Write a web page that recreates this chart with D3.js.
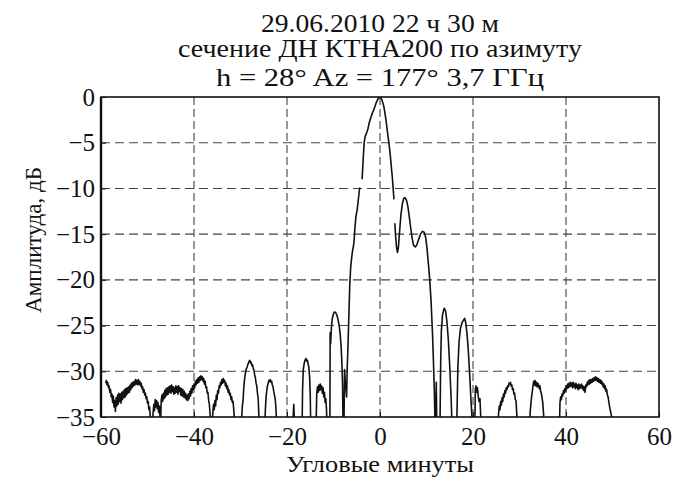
<!DOCTYPE html>
<html><head><meta charset="utf-8">
<script src="https://cdn.jsdelivr.net/npm/d3@7"></script>
<style>body{margin:0;background:#fff}svg{display:block}</style>
</head><body>
<svg id="chart" width="689" height="480"></svg>
<script>
// ---- data ----
const titleLines = ["29.06.2010 22 ч 30 м", "сечение ДН КТНА200 по азимуту", "h = 28°  Az = 177°  3,7 ГГц"];
const xLabel = "Угловые минуты";
const yLabel = "Амплитуда, дБ";
const xTicks = [-60, -40, -20, 0, 20, 40, 60];
const yTicks = [0, -5, -10, -15, -20, -25, -30, -35];
const xGrid = [-40, -20, 0, 20, 40];
const yGrid = [-5, -10, -15, -20, -25, -30];

// segment 1: far-left noise through the left side of the main lobe
const segment1 = [
[-59.0,-31.3],[-58.85,-31.0],[-58.7,-31.5],[-58.55,-31.2],[-58.4,-31.8],[-58.25,-31.6],[-58.1,-32.3],[-57.95,-32.0],[-57.8,-32.8],[-57.65,-32.5],
[-57.5,-33.4],[-57.35,-32.7],[-57.2,-33.9],[-57.05,-33.2],[-56.9,-34.4],[-56.75,-32.9],[-56.6,-33.8],[-56.45,-32.6],[-56.3,-33.6],[-56.15,-32.4],
[-56.0,-33.3],[-55.85,-32.5],[-55.7,-33.5],[-55.55,-32.3],[-55.4,-33.1],[-55.25,-32.2],[-55.1,-32.9],[-54.95,-32.0],[-54.8,-32.8],[-54.65,-31.9],
[-54.5,-32.6],[-54.35,-31.8],[-54.2,-32.4],[-54.05,-31.7],[-53.9,-32.3],[-53.75,-31.5],[-53.6,-32.0],[-53.45,-31.3],[-53.3,-31.8],[-53.15,-31.2],
[-53.0,-31.6],[-52.85,-31.1],[-52.7,-31.5],[-52.55,-30.9],[-52.4,-31.4],[-52.25,-31.0],[-52.1,-31.5],[-51.95,-30.9],[-51.8,-31.4],[-51.65,-31.1],
[-51.5,-31.6],[-51.35,-31.3],[-51.2,-31.9],[-51.05,-31.7],[-50.9,-32.3],[-50.75,-32.0],[-50.6,-32.6],[-50.45,-32.4],[-50.3,-33.0],[-50.15,-32.8],
[-50.0,-33.5],[-49.85,-33.3],[-49.7,-34.2],[-49.55,-33.9],[-49.4,-35.0],[-49.25,-36],
[-48.9,-36],[-48.8,-34.6],[-48.65,-33.6],[-48.5,-34.3],[-48.35,-33.1],[-48.2,-33.9],[-48.05,-33.2],[-47.9,-34.1],[-47.75,-33.4],[-47.6,-34.5],
[-47.45,-33.8],[-47.3,-35.0],[-47.2,-36],
[-47.05,-33.2],[-46.9,-32.6],[-46.75,-33.3],[-46.6,-32.4],[-46.45,-33.0],[-46.3,-32.1],[-46.15,-32.8],[-46.0,-31.9],[-45.85,-32.6],[-45.7,-31.8],
[-45.55,-32.5],[-45.4,-31.7],[-45.25,-32.3],[-45.1,-31.6],[-44.95,-32.4],[-44.8,-31.5],[-44.65,-32.2],[-44.5,-31.7],[-44.35,-32.5],[-44.2,-31.8],
[-44.05,-32.4],[-43.9,-31.6],[-43.75,-32.3],[-43.6,-31.7],[-43.45,-32.5],[-43.3,-31.6],[-43.15,-32.2],[-43.0,-31.8],[-42.85,-32.6],[-42.7,-31.9],
[-42.55,-32.7],[-42.4,-32.0],[-42.25,-32.8],[-42.1,-32.2],[-41.95,-32.9],[-41.8,-32.4],[-41.65,-33.1],[-41.5,-32.6],[-41.35,-33.2],[-41.2,-32.5],
[-41.05,-33.0],[-40.9,-32.2],[-40.75,-32.7],[-40.6,-31.9],[-40.45,-32.4],[-40.3,-31.6],[-40.15,-32.0],[-40.0,-31.4],[-39.85,-31.8],[-39.7,-31.1],
[-39.55,-31.5],[-39.4,-30.9],[-39.25,-31.3],[-39.1,-30.7],[-38.95,-31.2],[-38.8,-30.6],[-38.65,-31.0],[-38.5,-30.5],[-38.35,-30.9],[-38.2,-30.6],
[-38.05,-31.1],[-37.9,-30.8],[-37.75,-31.4],[-37.6,-31.1],[-37.45,-31.8],[-37.3,-31.7],[-37.15,-32.4],[-37.0,-32.3],[-36.85,-33.2],[-36.7,-33.6],
[-36.55,-34.6],[-36.4,-36],[-36.1,-36],[-35.95,-34.5],[-35.8,-33.6],[-35.65,-34.2],[-35.5,-33.2],[-35.35,-33.8],[-35.2,-32.6],[-35.05,-33.1],
[-34.9,-32.1],[-34.75,-32.4],[-34.6,-31.6],[-34.45,-31.8],[-34.3,-31.2],[-34.15,-31.5],[-34.0,-30.9],[-33.85,-31.3],[-33.7,-30.8],[-33.55,-31.2],
[-33.4,-31.0],[-33.25,-31.6],[-33.1,-31.3],[-32.95,-31.9],[-32.8,-31.6],[-32.65,-32.3],[-32.5,-32.0],[-32.35,-32.6],[-32.2,-32.4],[-32.05,-33.1],
[-31.9,-32.8],[-31.75,-33.4],[-31.6,-33.3],[-31.45,-34.2],[-31.3,-35.2],[-31.2,-36],
[-29.85,-36],[-29.6,-33.8],[-29.45,-33.2],[-29.3,-31.8],[-29.15,-31.0],[-29.0,-30.4],[-28.8,-29.8],[-28.6,-29.6],[-28.45,-29.3],[-28.3,-29.1],
[-28.15,-28.9],[-28.0,-28.8],[-27.85,-29.1],[-27.7,-29.0],[-27.55,-29.4],[-27.4,-29.3],[-27.25,-29.7],[-27.1,-29.9],[-26.95,-30.4],[-26.8,-30.7],
[-26.65,-31.3],[-26.5,-31.6],[-26.35,-32.4],[-26.2,-33.0],[-26.05,-34.8],[-25.95,-36],
[-24.8,-36],[-24.65,-34.2],[-24.5,-32.8],[-24.35,-32.1],[-24.2,-31.6],[-24.05,-31.3],[-23.9,-31.0],[-23.75,-31.1],[-23.6,-30.9],[-23.45,-31.2],
[-23.3,-31.1],[-23.15,-31.5],[-23.0,-31.7],[-22.85,-32.2],[-22.7,-32.6],[-22.55,-33.0],[-22.4,-33.8],[-22.2,-36],
[-18.75,-36],[-18.55,-33.6],[-18.35,-36],
[-16.75,-36],[-16.65,-32.0],[-16.5,-29.8],[-16.35,-29.3],[-16.2,-28.9],[-16.05,-28.7],[-15.9,-28.6],[-15.75,-28.9],[-15.6,-28.8],[-15.45,-29.2],
[-15.3,-29.6],[-15.15,-30.5],[-15.0,-32.5],[-14.9,-36],
[-13.75,-36],[-13.6,-32.4],[-13.45,-31.7],[-13.3,-32.3],[-13.15,-31.5],[-13.0,-32.1],[-12.85,-31.4],[-12.7,-32.0],[-12.55,-31.6],[-12.4,-32.4],
[-12.25,-31.8],[-12.1,-32.8],[-11.95,-32.3],[-11.8,-33.4],[-11.65,-33.0],[-11.5,-34.2],[-11.4,-36],
[-10.78,-36],[-10.72,-25.8],[-10.62,-27.0],[-10.45,-25.2],[-10.25,-24.2],[-10.0,-23.7],[-9.75,-23.5],[-9.5,-23.6],[-9.25,-23.9],[-9.0,-24.4],
[-8.75,-25.1],[-8.55,-26.0],[-8.35,-27.4],[-8.2,-29.0],[-8.05,-31.5],[-7.95,-36],
[-7.75,-36],[-7.62,-29.8],[-7.45,-31.2],[-7.3,-32.0],[-7.18,-32.8],[-7.05,-29.6],[-6.9,-27.5],[-6.7,-24.0],[-6.5,-20.5],[-6.3,-18.6],
[-6.1,-17.6],[-5.9,-16.8],[-5.7,-16.3],[-5.55,-15.6],[-5.4,-14.4],[-5.2,-13.2],[-5.05,-12.7],[-4.9,-12.3],[-4.7,-11.4],[-4.5,-10.5],[-4.37,-9.9]
];

// segment 2: top of the main lobe
const segment2 = [
[-3.85,-9.0],[-3.7,-7.6],[-3.55,-6.2],[-3.4,-5.0],[-3.2,-4.3],[-3.0,-4.1],[-2.8,-3.8],[-2.6,-3.5],[-2.4,-3.0],[-2.2,-2.6],
[-2.0,-2.3],[-1.8,-2.0],[-1.6,-1.7],[-1.4,-1.5],[-1.2,-1.2],[-1.0,-0.9],[-0.8,-0.6],[-0.6,-0.4],[-0.45,-0.2],[-0.3,-0.15],
[-0.15,0],[0.05,0],[0.2,-0.1],[0.4,-0.3],[0.65,-0.7],[0.85,-1.1],[1.05,-1.7],[1.25,-2.4],[1.45,-3.2],[1.65,-4.0],
[1.85,-4.8],[2.05,-5.6],[2.25,-6.6],[2.45,-7.7],[2.65,-8.8],[2.85,-10.1],[3.0,-11.2]
];

// segment 3: right shoulder and right side lobes
const segment3 = [
[3.2,-13.8],[3.35,-15.2],[3.55,-16.4],[3.75,-17.0],[3.95,-16.5],[4.2,-14.8],[4.5,-12.9],[4.8,-11.7],[5.1,-11.1],[5.4,-11.0],
[5.7,-11.3],[6.0,-12.0],[6.3,-13.1],[6.6,-14.3],[6.9,-15.4],[7.2,-16.2],[7.6,-16.4],[7.9,-16.2],[8.3,-15.6],[8.7,-15.0],
[9.1,-14.7],[9.5,-14.8],[9.8,-15.3],[10.1,-16.5],[10.4,-18.2],[10.7,-20.0],[11.0,-22.5],[11.3,-26.0],[11.5,-29.0],[11.7,-32.5],
[11.85,-36],[11.98,-36],[12.1,-31.2],[12.22,-36],
[12.9,-36],[13.05,-29.0],[13.2,-25.5],[13.45,-23.8],[13.8,-23.1],[14.1,-23.4],[14.4,-24.6],[14.7,-26.6],[15.0,-29.5],[15.3,-33.0],[15.5,-36],
[16.5,-36],[16.75,-29.5],[17.0,-26.8],[17.3,-25.3],[17.7,-24.6],[18.0,-24.4],[18.2,-24.2],[18.4,-24.6],[18.7,-25.8],[19.0,-27.8],
[19.3,-30.5],[19.6,-33.5],[19.9,-36],
[20.4,-36],[20.5,-32.0],[20.65,-31.6],[20.8,-32.3],[20.95,-31.8],[21.1,-32.6],[21.3,-33.3],[21.5,-33.0],[21.75,-36],
[25.4,-36],[25.5,-34.6],[25.65,-33.8],[25.8,-34.2],[25.95,-33.3],[26.1,-33.7],[26.25,-32.9],[26.4,-33.3],[26.55,-32.5],[26.7,-32.8],
[26.85,-32.1],[27.0,-32.4],[27.15,-31.8],[27.3,-32.0],[27.45,-31.6],[27.6,-31.7],[27.75,-31.3],[27.9,-31.4],[28.05,-31.2],[28.2,-31.6],
[28.35,-31.5],[28.5,-32.0],[28.65,-31.9],[28.8,-32.5],[28.95,-32.4],[29.1,-33.1],[29.25,-33.2],[29.4,-34.5],[29.5,-36],
[32.2,-36],[32.3,-34.4],[32.45,-33.6],[32.6,-32.8],[32.75,-32.2],[32.9,-31.6],[33.05,-31.1],[33.2,-31.5],[33.35,-31.0],[33.5,-31.6],
[33.65,-31.2],[33.8,-31.7],[33.95,-31.3],[34.1,-31.5],[34.25,-31.9],[34.4,-31.6],[34.55,-32.2],[34.7,-32.4],[34.85,-32.9],[35.0,-33.4],
[35.15,-34.5],[35.35,-36],
[38.6,-36],[38.7,-33.5],[38.85,-32.8],[39.0,-33.1],[39.15,-32.5],[39.3,-32.7],[39.45,-32.1],[39.6,-32.4],[39.75,-31.9],[39.9,-32.2],
[40.05,-31.6],[40.2,-31.9],[40.35,-31.4],[40.5,-31.8],[40.65,-31.3],[40.8,-31.7],[40.95,-31.2],[41.1,-31.6],[41.25,-31.3],[41.4,-31.8],
[41.55,-31.2],[41.7,-31.7],[41.85,-31.4],[42.0,-31.9],[42.15,-31.3],[42.3,-31.8],[42.45,-31.5],[42.6,-32.0],[42.75,-31.4],[42.9,-31.9],
[43.05,-31.5],[43.2,-31.8],[43.35,-31.4],[43.5,-31.9],[43.65,-31.6],[43.8,-32.1],[43.95,-31.7],[44.1,-32.3],[44.25,-31.5],[44.4,-31.7],
[44.55,-31.2],[44.7,-31.5],[44.85,-31.0],[45.0,-31.4],[45.15,-30.9],[45.3,-31.3],[45.45,-30.9],[45.6,-31.2],[45.75,-30.8],[45.9,-31.1],
[46.05,-30.7],[46.2,-31.0],[46.35,-30.6],[46.5,-31.0],[46.65,-30.7],[46.8,-31.1],[46.95,-30.8],[47.1,-31.2],[47.25,-30.9],[47.4,-31.3],
[47.55,-31.0],[47.7,-31.4],[47.85,-31.2],[48.0,-31.7],[48.15,-31.4],[48.3,-31.9],[48.45,-31.6],[48.6,-32.2],[48.75,-32.0],[48.9,-32.6],
[49.05,-32.8],[49.2,-33.3],[49.35,-33.8],[49.5,-34.2],[49.65,-34.6],[49.8,-34.9],[50.0,-35.3],[50.1,-36]
];
const segments = [segment1, segment2, segment3];

// ---- drawing ----
const svg = d3.select("#chart");
const m = {left: 101, right: 659, top: 97, bottom: 417};
const x = d3.scaleLinear().domain([-60, 60]).range([m.left, m.right]);
const y = d3.scaleLinear().domain([-35, 0]).range([m.bottom, m.top]);
const font = "'Liberation Serif', 'Times New Roman', serif";

svg.append("defs").append("clipPath").attr("id", "clip")
  .append("rect").attr("x", m.left).attr("y", m.top)
  .attr("width", m.right - m.left).attr("height", m.bottom - m.top);

// grid
svg.append("g").selectAll("line").data(xGrid).join("line")
  .attr("x1", d => x(d)).attr("x2", d => x(d))
  .attr("y1", m.top).attr("y2", m.bottom)
  .attr("stroke", "#444").attr("stroke-width", 1.1).attr("stroke-dasharray", "8,4");
svg.append("g").selectAll("line").data(yGrid).join("line")
  .attr("y1", d => y(d)).attr("y2", d => y(d))
  .attr("x1", m.left).attr("x2", m.right)
  .attr("stroke", "#444").attr("stroke-width", 1.1).attr("stroke-dasharray", "9,5");

// curve
const line = d3.line().x(d => x(d[0])).y(d => y(d[1]));
svg.append("g").attr("clip-path", "url(#clip)").selectAll("path").data(segments).join("path")
  .attr("d", line).attr("fill", "none").attr("stroke", "#111")
  .attr("stroke-width", 1.6).attr("stroke-linejoin", "round");

// frame
svg.append("rect").attr("x", m.left).attr("y", m.top)
  .attr("width", m.right - m.left).attr("height", m.bottom - m.top)
  .attr("fill", "none").attr("stroke", "#111").attr("stroke-width", 1.6);
svg.append("line").attr("x1", m.left).attr("x2", m.left).attr("y1", m.top).attr("y2", m.bottom)
  .attr("stroke", "#111").attr("stroke-width", 2.4);

// axes (inward ticks)
const fmt = d => d < 0 ? "\u2212" + Math.abs(d) : String(d);
const ax = svg.append("g").attr("transform", `translate(0,${m.bottom})`)
  .call(d3.axisBottom(x).tickValues(xTicks).tickSize(-5).tickPadding(11).tickFormat(fmt));
const ay = svg.append("g").attr("transform", `translate(${m.left},0)`)
  .call(d3.axisLeft(y).tickValues(yTicks).tickSize(-5).tickPadding(6).tickFormat(fmt));
[ax, ay].forEach(g => {
  g.select(".domain").remove();
  g.selectAll(".tick line").attr("stroke", "#111");
  g.selectAll(".tick text").attr("font-family", font).attr("font-size", 25).attr("fill", "#111");
});
ax.selectAll(".tick text").attr("dy", "0.68em");
ay.selectAll(".tick text").attr("dy", "0.32em");

// titles
const tY = [32, 57, 86];
const tW = [238, 404, 328];
svg.append("g").selectAll("text").data(titleLines).join("text")
  .attr("x", 380).attr("y", (d, i) => tY[i]).attr("text-anchor", "middle")
  .attr("font-family", font).attr("font-size", 25).attr("fill", "#111")
  .attr("textLength", (d, i) => tW[i]).attr("lengthAdjust", "spacingAndGlyphs")
  .text(d => d);

svg.append("text").attr("x", 380).attr("y", 472).attr("text-anchor", "middle")
  .attr("font-family", font).attr("font-size", 24).attr("fill", "#111")
  .attr("textLength", 188).attr("lengthAdjust", "spacingAndGlyphs").text(xLabel);

svg.append("text").attr("transform", "translate(41,240) rotate(-90)").attr("text-anchor", "middle")
  .attr("font-family", font).attr("font-size", 24).attr("fill", "#111")
  .attr("textLength", 146).attr("lengthAdjust", "spacingAndGlyphs").text(yLabel);
</script>
</body></html>
